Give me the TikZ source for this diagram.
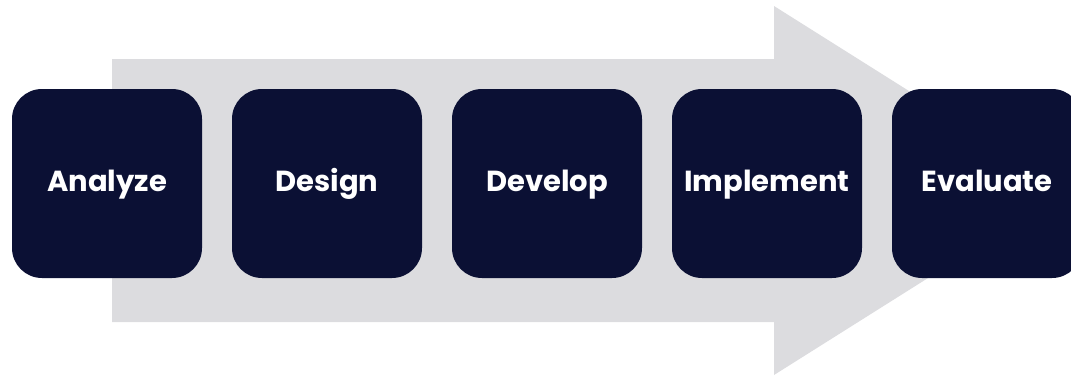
\documentclass[tikz,border=0pt]{standalone}
\usepackage{fontspec}
\setmainfont{Poppins}
\usepackage{xcolor}
\usepackage{tikz}
\definecolor{navy}{HTML}{0B1034}
\definecolor{flowgray}{HTML}{DCDCDF}

\begin{document}
\begin{tikzpicture}[x=1pt, y=-1pt]
                \tikzstyle{phase} = [rectangle, rounded corners=30pt, fill=navy, text=white, font=\fontsize{29}{32}\selectfont\bfseries, minimum width=190pt, minimum height=189pt, inner sep=0pt, text height=21pt, text depth=6pt]
                \useasboundingbox (0,0) rectangle (1071,376);
                % big grey arrow behind the steps
                \fill[flowgray] (112,59) -- (774,59) -- (774,6) -- (1067,190.5) -- (774,375) -- (774,322) -- (112,322) -- cycle;
                \foreach \name [count=\i] in {Analyze, Design, Develop, Implement, Evaluate} {
                    \node[phase] (s\i) at (107+220*\i-220, 183.5) {\name};
                }
            \end{tikzpicture}
\end{document}
